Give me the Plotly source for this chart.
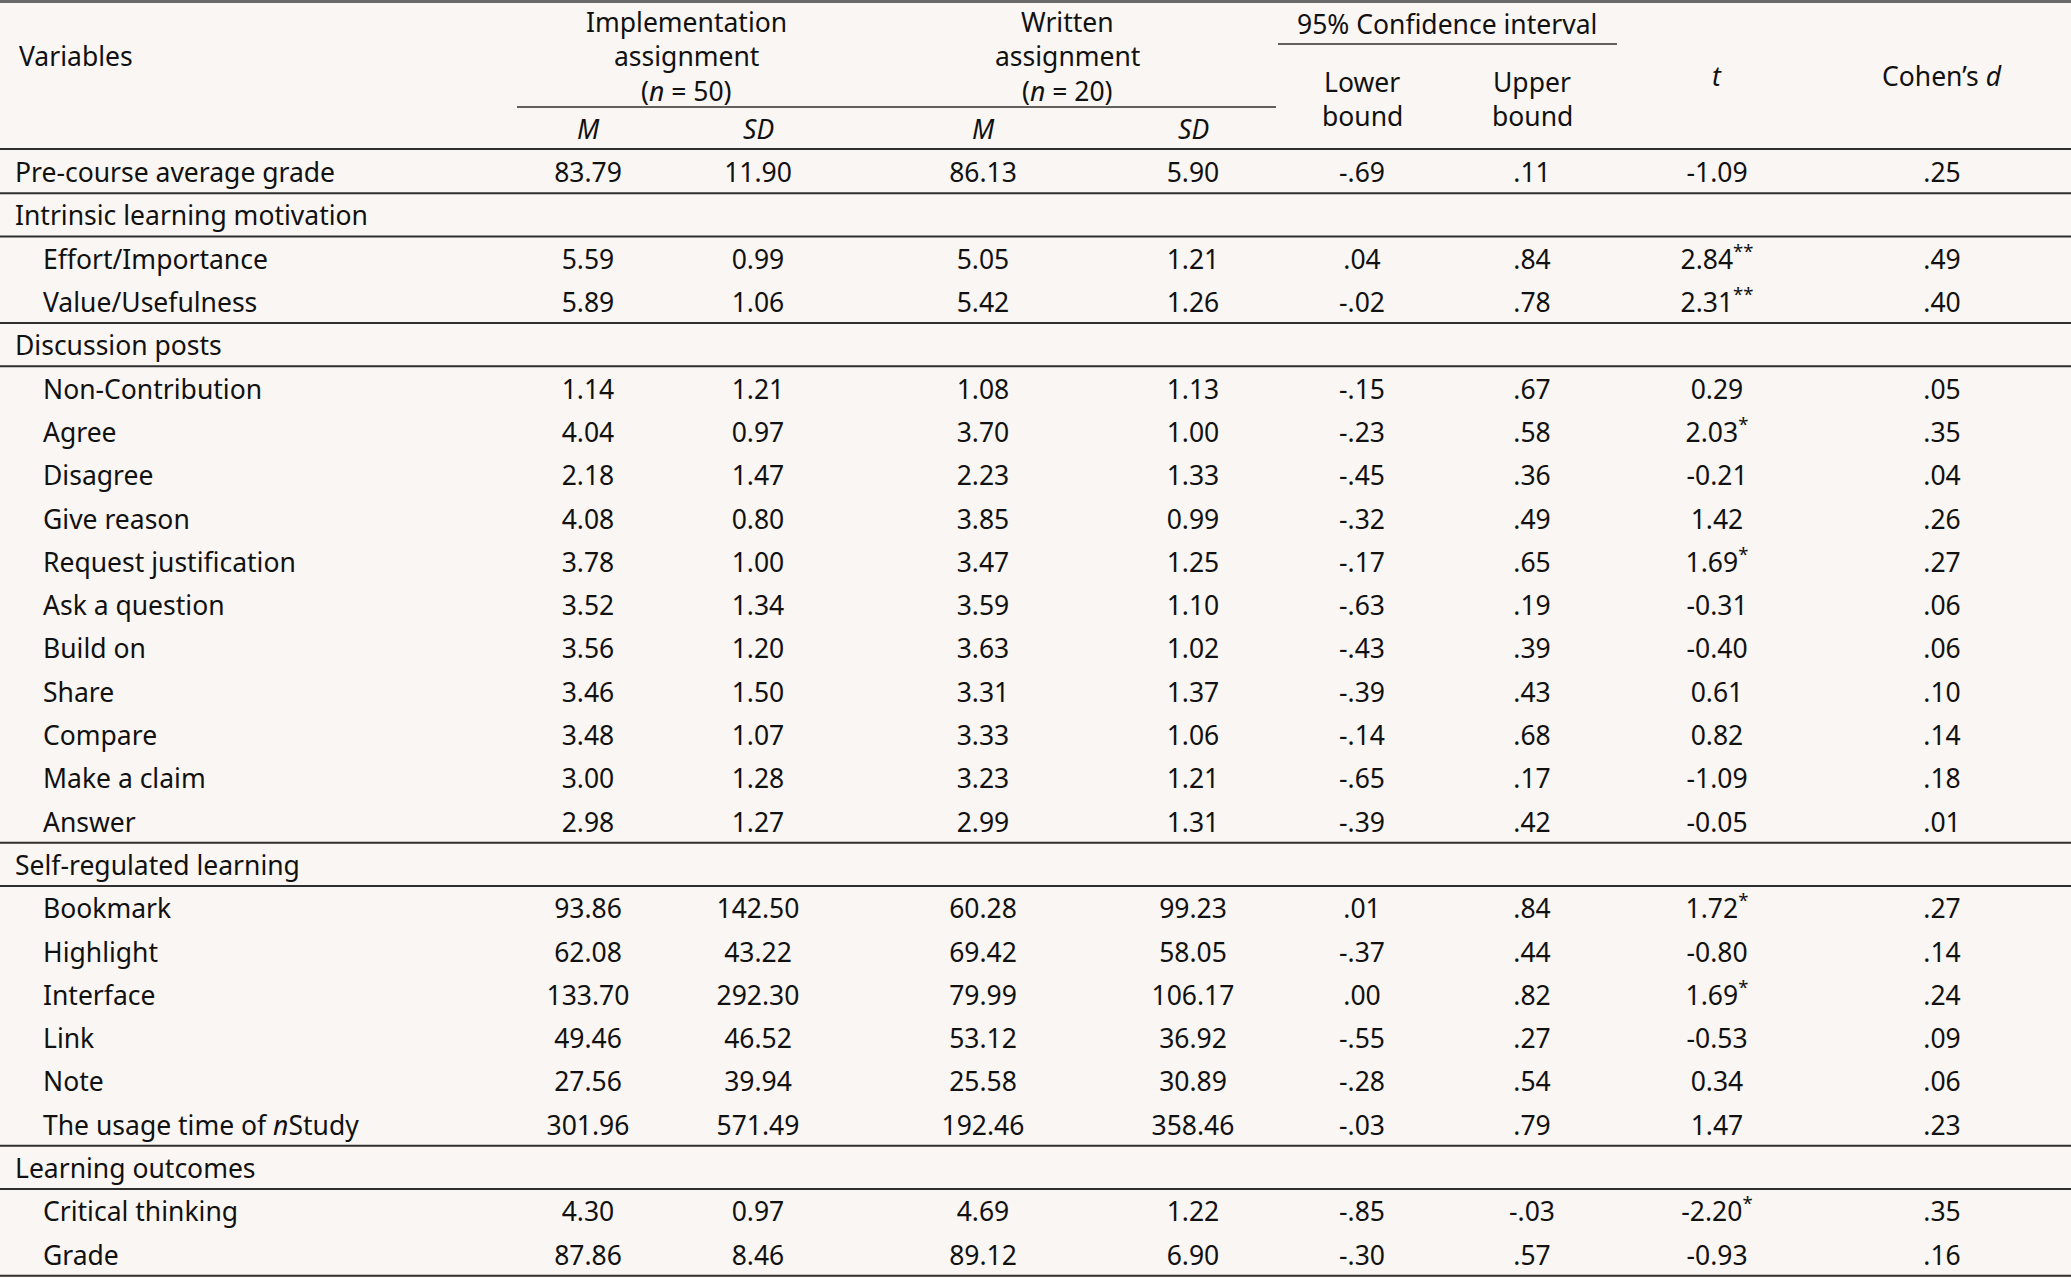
import plotly.graph_objects as go

W, H = 2071, 1278
BG = "#faf6f3"
INK = "#111111"
RULE = "#2e2e2e"
FONT = "Noto Sans"
FS = 26.5

# ---- data ----
variables = [
    "Pre-course average grade",
    "Intrinsic learning motivation",
    "Effort/Importance", "Value/Usefulness",
    "Discussion posts",
    "Non-Contribution", "Agree", "Disagree", "Give reason", "Request justification",
    "Ask a question", "Build on", "Share", "Compare", "Make a claim", "Answer",
    "Self-regulated learning",
    "Bookmark", "Highlight", "Interface", "Link", "Note", "The usage time of <i>n</i>Study",
    "Learning outcomes",
    "Critical thinking", "Grade",
]
headings = ["Intrinsic learning motivation", "Discussion posts",
            "Self-regulated learning", "Learning outcomes"]

impl_m = [83.79, None, 5.59, 5.89, None, 1.14, 4.04, 2.18, 4.08, 3.78, 3.52, 3.56, 3.46, 3.48,
          3.00, 2.98, None, 93.86, 62.08, 133.70, 49.46, 27.56, 301.96, None, 4.30, 87.86]
impl_sd = [11.90, None, 0.99, 1.06, None, 1.21, 0.97, 1.47, 0.80, 1.00, 1.34, 1.20, 1.50, 1.07,
           1.28, 1.27, None, 142.50, 43.22, 292.30, 46.52, 39.94, 571.49, None, 0.97, 8.46]
writ_m = [86.13, None, 5.05, 5.42, None, 1.08, 3.70, 2.23, 3.85, 3.47, 3.59, 3.63, 3.31, 3.33,
          3.23, 2.99, None, 60.28, 69.42, 79.99, 53.12, 25.58, 192.46, None, 4.69, 89.12]
writ_sd = [5.90, None, 1.21, 1.26, None, 1.13, 1.00, 1.33, 0.99, 1.25, 1.10, 1.02, 1.37, 1.06,
           1.21, 1.31, None, 99.23, 58.05, 106.17, 36.92, 30.89, 358.46, None, 1.22, 6.90]
ci_low = [-0.69, None, 0.04, -0.02, None, -0.15, -0.23, -0.45, -0.32, -0.17, -0.63, -0.43, -0.39,
          -0.14, -0.65, -0.39, None, 0.01, -0.37, 0.00, -0.55, -0.28, -0.03, None, -0.85, -0.30]
ci_up = [0.11, None, 0.84, 0.78, None, 0.67, 0.58, 0.36, 0.49, 0.65, 0.19, 0.39, 0.43, 0.68,
         0.17, 0.42, None, 0.84, 0.44, 0.82, 0.27, 0.54, 0.79, None, -0.03, 0.57]
t_vals = [-1.09, None, 2.84, 2.31, None, 0.29, 2.03, -0.21, 1.42, 1.69, -0.31, -0.40, 0.61, 0.82,
          -1.09, -0.05, None, 1.72, -0.80, 1.69, -0.53, 0.34, 1.47, None, -2.20, -0.93]
t_sig = ["", "", "**", "**", "", "", "*", "", "", "*", "", "", "", "",
         "", "", "", "*", "", "*", "", "", "", "", "*", ""]
cohen_d = [0.25, None, 0.49, 0.40, None, 0.05, 0.35, 0.04, 0.26, 0.27, 0.06, 0.06, 0.10, 0.14,
           0.18, 0.01, None, 0.27, 0.14, 0.24, 0.09, 0.06, 0.23, None, 0.35, 0.16]


def fmt(v):
    return f"{v:.2f}"


def fmt_nolead(v):
    s = f"{v:.2f}"
    return s.replace("0.", ".", 1) if s.lstrip("-").startswith("0.") else s


# ---- layout geometry (pixels) ----
ROW0, ROW_H = 175.5, 43.3
TEXT_DY = 4  # text sits a little below the middle of its row band
row_y = [ROW0 + i * ROW_H for i in range(len(variables))]
X_LABEL, X_INDENT = 15, 43
cols = {
    "impl_m": 588, "impl_sd": 758, "writ_m": 983, "writ_sd": 1193,
    "low": 1362, "up": 1532, "t": 1717, "d": 1942,
}

fig = go.Figure()

top_level = ["Pre-course average grade"] + headings
label_x = [X_LABEL if v in top_level else X_INDENT for v in variables]
fig.add_trace(go.Scatter(
    x=label_x, y=row_y, text=variables, mode="text",
    textposition="middle right", textfont=dict(family=FONT, size=FS, color=INK),
    hoverinfo="skip", showlegend=False,
))

columns = [
    ("impl_m", impl_m, fmt),
    ("impl_sd", impl_sd, fmt),
    ("writ_m", writ_m, fmt),
    ("writ_sd", writ_sd, fmt),
    ("low", ci_low, fmt_nolead),
    ("up", ci_up, fmt_nolead),
    ("t", t_vals, fmt),
    ("d", cohen_d, fmt_nolead),
]
for key, vals, f in columns:
    ys, texts = [], []
    for i, v in enumerate(vals):
        if v is None:
            continue
        s = f(v)
        if key == "t" and t_sig[i]:
            s += f"<sup>{t_sig[i]}</sup>"
        ys.append(row_y[i])
        texts.append(s)
    fig.add_trace(go.Scatter(
        x=[cols[key]] * len(texts), y=ys, text=texts, mode="text",
        textposition="middle center", textfont=dict(family=FONT, size=FS, color=INK),
        hoverinfo="skip", showlegend=False,
    ))

# ---- header ----
def head(x, y, text, anchor="center"):
    fig.add_annotation(x=x, y=y, xref="x", yref="y", text=text, showarrow=False,
                       xanchor=anchor, yanchor="middle",
                       font=dict(family=FONT, size=FS, color=INK))

IMPL_X, WRIT_X = 686, 1067
head(X_LABEL + 2, 56, "Variables", "left")
head(IMPL_X, 22, "Implementation")
head(IMPL_X, 56, "assignment")
head(IMPL_X, 91, "(<i>n</i> = 50)")
head(WRIT_X, 22, "Written")
head(WRIT_X, 56, "assignment")
head(WRIT_X, 91, "(<i>n</i> = 20)")
head(1447, 24, "95% Confidence interval")
head(cols["low"], 82, "Lower")
head(cols["low"], 116, "bound")
head(cols["up"], 82, "Upper")
head(cols["up"], 116, "bound")
head(cols["t"], 76, "<i>t</i>")
head(cols["d"], 76, "Cohen’s <i>d</i>")
for key, lab in [("impl_m", "M"), ("impl_sd", "SD"), ("writ_m", "M"), ("writ_sd", "SD")]:
    head(cols[key], 129, f"<i>{lab}</i>")

# ---- rules ----
def rule(y, x0=0, x1=W, width=2, color=RULE):
    fig.add_shape(type="line", xref="x", yref="y", x0=x0, x1=x1, y0=y, y1=y,
                  line=dict(color=color, width=width))

rule(1.5, width=3, color="#6a6a6a")
rule(44, 1278, 1617, width=1.6)
rule(107, 517, 1276, width=1.6)
rule(149)
rule_after = set()
for i, v in enumerate(variables):
    if v in top_level:
        rule_after.add(i)
        if i > 0:
            rule_after.add(i - 1)
rule_after.add(len(variables) - 1)
for i in sorted(rule_after):
    rule(row_y[i] + ROW_H / 2 - TEXT_DY)

fig.update_layout(
    width=W, height=H, autosize=False,
    margin=dict(l=0, r=0, t=0, b=0),
    paper_bgcolor=BG, plot_bgcolor=BG,
    xaxis=dict(range=[0, W], visible=False, fixedrange=True),
    yaxis=dict(range=[H, 0], visible=False, fixedrange=True),
)

fig.write_html(
    "out.html",
    config={"displayModeBar": False},
    post_script="document.body.style.margin='0';document.body.style.overflow='hidden';"
                "document.body.style.background='" + BG + "';",
)
